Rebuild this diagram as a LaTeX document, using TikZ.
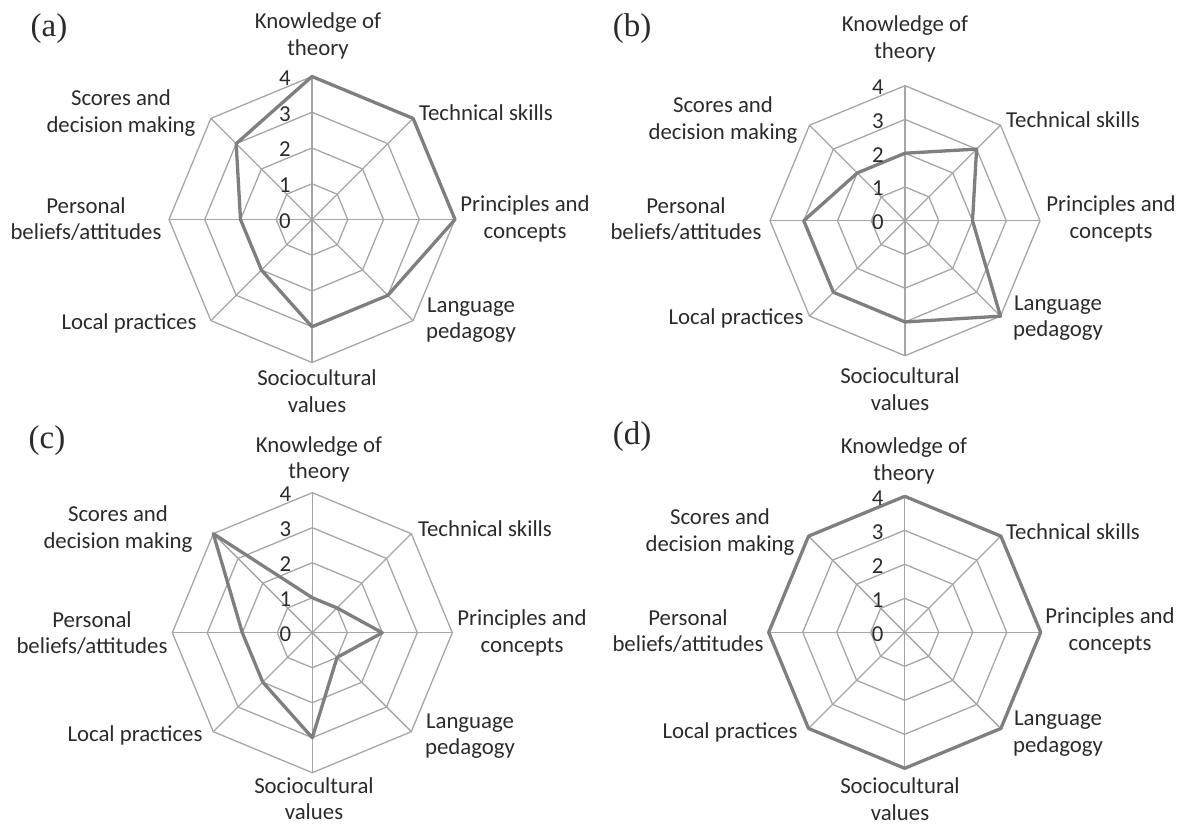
\documentclass[tikz,border=0pt]{standalone}
\usepackage{fontspec}
\setmainfont{Carlito}
\newfontfamily\panelfont{Liberation Serif}
\definecolor{gridgray}{HTML}{A6A6A6}
\definecolor{datagray}{HTML}{7F7F7F}
\definecolor{txt}{HTML}{2B2B2B}
\tikzset{
  gridline/.style={draw=gridgray, line width=1.3pt},
  dataline/.style={draw=datagray, line width=3.3pt, line join=round},
  lbl/.style={font=\fontsize{22.8}{26.5}\selectfont, align=center, inner sep=0pt, text=txt},
  num/.style={font=\fontsize{22.8}{26}\selectfont, inner sep=0pt, text=txt},
  panel/.style={font=\panelfont\fontsize{33}{36}\selectfont, inner sep=0pt, text=txt}
}
\newcommand\radarplot[5]{%
 \begin{scope}[shift={(#2,#3)}]
  \foreach \i in {0,...,7}{\coordinate (#1-v\i) at ({-90+45*\i}:#4);}
  \foreach \i in {0,...,7}{\draw[gridline] (0,0) -- (#1-v\i);}
  \foreach \k in {1,...,4}{\draw[gridline] (-90:{#4*\k/4}) -- (-45:{#4*\k/4}) -- (0:{#4*\k/4}) -- (45:{#4*\k/4}) -- (90:{#4*\k/4}) -- (135:{#4*\k/4}) -- (180:{#4*\k/4}) -- (225:{#4*\k/4}) -- cycle;}
  \foreach \v [count=\i from 0] in {#5}{\coordinate (#1-d\i) at ({-90+45*\i}:{#4*\v/4});}
  \draw[dataline] (#1-d0) -- (#1-d1) -- (#1-d2) -- (#1-d3) -- (#1-d4) -- (#1-d5) -- (#1-d6) -- (#1-d7) -- cycle;
  \foreach \k in {0,...,4}{\node[num] (#1-n\k) at (-27, {-#4*\k/4+1.5}) {\k};}
 \end{scope}}
\begin{document}
\begin{tikzpicture}[x=1pt, y=-1pt]
\useasboundingbox (0,0) rectangle (1180,825);
% charts
\radarplot{A}{312}{219.5}{143}{4,4,4,3,3,2,2,3}
\radarplot{B}{905}{220.7}{135}{2,3,2,4,3,3,3,2}
\radarplot{C}{312.3}{632.7}{140}{1,1,2,1,3,2,2,4}
\radarplot{D}{904.7}{632.3}{136}{4,4,4,4,4,4,4,4}
% panel letters
\node[panel] (pa) at (49,29) {(a)};
\node[panel] (pb) at (632,29) {(b)};
\node[panel] (pc) at (47,441) {(c)};
\node[panel] (pd) at (632,437) {(d)};
% labels (a)
\node[lbl] (A-kt) at (318,36) {Knowledge of\\theory};
\node[lbl] (A-ts) at (486,113) {Technical skills};
\node[lbl] (A-pc) at (525,219) {Principles and\\concepts};
\node[lbl] (A-lp) at (471,320) {Language\\pedagogy};
\node[lbl] (A-sv) at (317,391) {Sociocultural\\values};
\node[lbl] (A-lo) at (129,323) {Local practices};
\node[lbl] (A-pb) at (86,219) {Personal\\beliefs/attitudes};
\node[lbl] (A-sd) at (121,113) {Scores and\\decision making};
% labels (b)
\node[lbl] (B-kt) at (905,39) {Knowledge of\\theory};
\node[lbl] (B-ts) at (1073,120) {Technical skills};
\node[lbl] (B-pc) at (1111,219) {Principles and\\concepts};
\node[lbl] (B-lp) at (1058,318) {Language\\pedagogy};
\node[lbl] (B-sv) at (900,389) {Sociocultural\\values};
\node[lbl] (B-lo) at (736,318) {Local practices};
\node[lbl] (B-pb) at (686,219) {Personal\\beliefs/attitudes};
\node[lbl] (B-sd) at (723,120) {Scores and\\decision making};
% labels (c)
\node[lbl] (C-kt) at (319,459.5) {Knowledge of\\theory};
\node[lbl] (C-ts) at (485,529) {Technical skills};
\node[lbl] (C-pc) at (522,633) {Principles and\\concepts};
\node[lbl] (C-lp) at (470,736) {Language\\pedagogy};
\node[lbl] (C-sv) at (314,798.5) {Sociocultural\\values};
\node[lbl] (C-lo) at (135,735) {Local practices};
\node[lbl] (C-pb) at (92,633) {Personal\\beliefs/attitudes};
\node[lbl] (C-sd) at (118,529) {Scores and\\decision making};
% labels (d)
\node[lbl] (D-kt) at (904,461) {Knowledge of\\theory};
\node[lbl] (D-ts) at (1073,532) {Technical skills};
\node[lbl] (D-pc) at (1110,631) {Principles and\\concepts};
\node[lbl] (D-lp) at (1058,733.5) {Language\\pedagogy};
\node[lbl] (D-sv) at (900,799) {Sociocultural\\values};
\node[lbl] (D-lo) at (730,732) {Local practices};
\node[lbl] (D-pb) at (688,631) {Personal\\beliefs/attitudes};
\node[lbl] (D-sd) at (720,532) {Scores and\\decision making};
\end{tikzpicture}
\end{document}
